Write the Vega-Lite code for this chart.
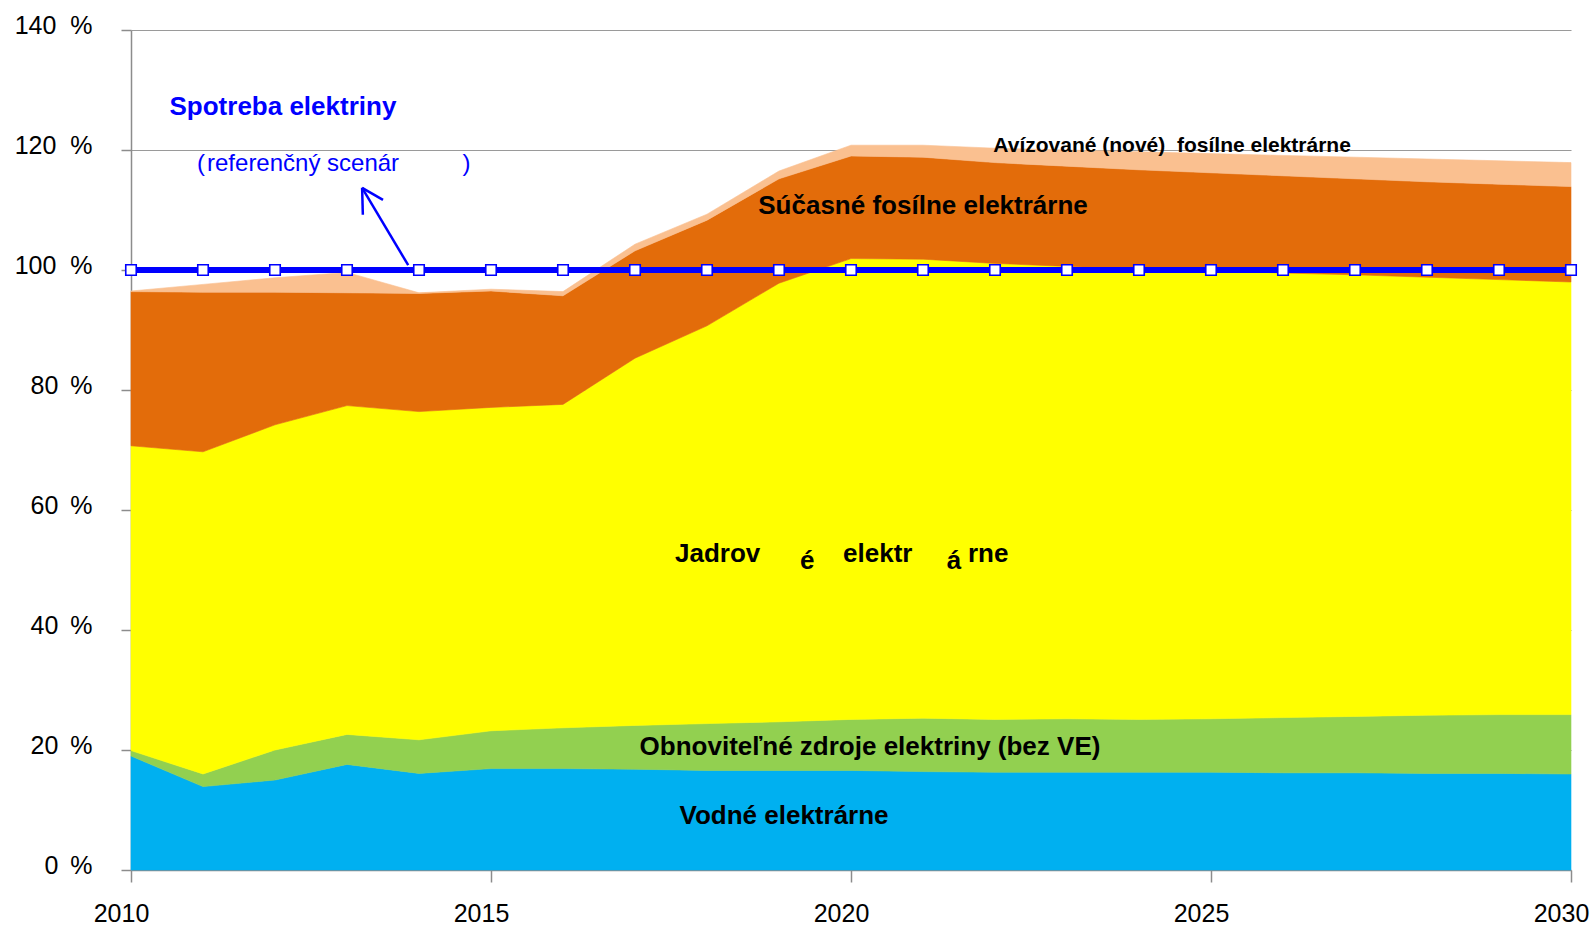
{
  "$schema": "https://vega.github.io/schema/vega-lite/v6.json",
  "width": 1440,
  "height": 840,
  "autosize": {"type": "none"},
  "padding": {"left": 131, "top": 30, "right": 25, "bottom": 55},
  "background": "white",
  "config": {
    "view": {"stroke": null},
    "font": "Liberation Sans",
    "axis": {"labelFont": "Liberation Sans", "labelColor": "#000000", "domainColor": "#8c8c8c", "tickColor": "#8c8c8c", "gridColor": "#9a9a9a", "domainWidth": 1.5, "tickWidth": 1.5, "gridWidth": 1.2}
  },
  "datasets": {
    "mix": [
      {"year": 2010, "a_vodne": 19.0, "b_obnov": 0.9, "c_jadro": 50.8, "d_fosil": 25.7, "e_nove": 0.1},
      {"year": 2011, "a_vodne": 13.9, "b_obnov": 2.1, "c_jadro": 53.7, "d_fosil": 26.6, "e_nove": 1.3},
      {"year": 2012, "a_vodne": 15.0, "b_obnov": 5.0, "c_jadro": 54.2, "d_fosil": 22.1, "e_nove": 2.4},
      {"year": 2013, "a_vodne": 17.6, "b_obnov": 5.0, "c_jadro": 54.8, "d_fosil": 18.8, "e_nove": 3.4},
      {"year": 2014, "a_vodne": 16.1, "b_obnov": 5.6, "c_jadro": 54.7, "d_fosil": 19.7, "e_nove": 0.1},
      {"year": 2015, "a_vodne": 16.9, "b_obnov": 6.3, "c_jadro": 53.9, "d_fosil": 19.4, "e_nove": 0.3},
      {"year": 2016, "a_vodne": 16.9, "b_obnov": 6.8, "c_jadro": 53.9, "d_fosil": 18.1, "e_nove": 0.7},
      {"year": 2017, "a_vodne": 16.8, "b_obnov": 7.3, "c_jadro": 61.2, "d_fosil": 17.9, "e_nove": 1.1},
      {"year": 2018, "a_vodne": 16.6, "b_obnov": 7.8, "c_jadro": 66.3, "d_fosil": 17.6, "e_nove": 1.0},
      {"year": 2019, "a_vodne": 16.6, "b_obnov": 8.1, "c_jadro": 73.1, "d_fosil": 17.4, "e_nove": 1.3},
      {"year": 2020, "a_vodne": 16.6, "b_obnov": 8.5, "c_jadro": 76.8, "d_fosil": 17.1, "e_nove": 1.8},
      {"year": 2021, "a_vodne": 16.4, "b_obnov": 8.9, "c_jadro": 76.5, "d_fosil": 17.0, "e_nove": 2.0},
      {"year": 2022, "a_vodne": 16.3, "b_obnov": 8.8, "c_jadro": 76.0, "d_fosil": 16.8, "e_nove": 2.4},
      {"year": 2023, "a_vodne": 16.3, "b_obnov": 8.9, "c_jadro": 75.4, "d_fosil": 16.7, "e_nove": 2.7},
      {"year": 2024, "a_vodne": 16.3, "b_obnov": 8.8, "c_jadro": 75.1, "d_fosil": 16.5, "e_nove": 3.0},
      {"year": 2025, "a_vodne": 16.3, "b_obnov": 8.9, "c_jadro": 74.7, "d_fosil": 16.3, "e_nove": 3.2},
      {"year": 2026, "a_vodne": 16.2, "b_obnov": 9.2, "c_jadro": 74.1, "d_fosil": 16.2, "e_nove": 3.4},
      {"year": 2027, "a_vodne": 16.2, "b_obnov": 9.4, "c_jadro": 73.6, "d_fosil": 16.0, "e_nove": 3.6},
      {"year": 2028, "a_vodne": 16.1, "b_obnov": 9.7, "c_jadro": 73.0, "d_fosil": 15.9, "e_nove": 3.8},
      {"year": 2029, "a_vodne": 16.1, "b_obnov": 9.8, "c_jadro": 72.5, "d_fosil": 15.9, "e_nove": 3.9},
      {"year": 2030, "a_vodne": 16.0, "b_obnov": 9.9, "c_jadro": 72.1, "d_fosil": 15.9, "e_nove": 4.0}
    ],
    "spotreba": [
      {"year": 2010, "pct": 100}, {"year": 2011, "pct": 100}, {"year": 2012, "pct": 100},
      {"year": 2013, "pct": 100}, {"year": 2014, "pct": 100}, {"year": 2015, "pct": 100},
      {"year": 2016, "pct": 100}, {"year": 2017, "pct": 100}, {"year": 2018, "pct": 100},
      {"year": 2019, "pct": 100}, {"year": 2020, "pct": 100}, {"year": 2021, "pct": 100},
      {"year": 2022, "pct": 100}, {"year": 2023, "pct": 100}, {"year": 2024, "pct": 100},
      {"year": 2025, "pct": 100}, {"year": 2026, "pct": 100}, {"year": 2027, "pct": 100},
      {"year": 2028, "pct": 100}, {"year": 2029, "pct": 100}, {"year": 2030, "pct": 100}
    ],
    "arrow": [
      {"x1": 2013.85, "y1": 100.8, "x2": 2013.21, "y2": 113.7},
      {"x1": 2013.21, "y1": 113.7, "x2": 2013.5, "y2": 111.7},
      {"x1": 2013.21, "y1": 113.7, "x2": 2013.22, "y2": 109.2}
    ],
    "labelsCenter": [
      {"tx": 2021.0, "ty": 109.33, "label": "Súčasné fosílne elektrárne"},
      {"tx": 2020.264, "ty": 19.17, "label": "Obnoviteľné zdroje elektriny (bez VE)"},
      {"tx": 2019.07, "ty": 7.67, "label": "Vodné elektrárne"}
    ],
    "labelsJadro": [
      {"tx": 2017.556, "ty": 51.33, "label": "Jadrov"},
      {"tx": 2019.29, "ty": 50.17, "label": "é"},
      {"tx": 2019.89, "ty": 51.33, "label": "elektr"},
      {"tx": 2021.33, "ty": 50.17, "label": "á"},
      {"tx": 2021.625, "ty": 51.33, "label": "rne"}
    ],
    "labelsNove": [
      {"tx": 2024.46, "ty": 119.7, "label": "Avízované (nové)\u00a0 fosílne elektrárne"}
    ],
    "labelsSpotreba": [
      {"tx": 2012.11, "ty": 125.83, "label": "Spotreba elektriny"}
    ],
    "labelsScenarLeft": [
      {"tx": 2010.917, "ty": 116.55, "label": "(\u200areferenčný scenár"}
    ],
    "labelsScenarRight": [
      {"tx": 2014.66, "ty": 116.55, "label": ")"}
    ]
  },
  "layer": [
    {
      "data": {"name": "mix"},
      "transform": [{"fold": ["a_vodne", "b_obnov", "c_jadro", "d_fosil", "e_nove"], "as": ["zdroj", "podiel"]}],
      "mark": {"type": "area", "interpolate": "linear", "strokeWidth": 0.6, "strokeOpacity": 1},
      "encoding": {
        "x": {"field": "year", "type": "quantitative", "title": null, "scale": {"domain": [2010, 2030], "nice": false, "zero": false},
          "axis": {"title": null, "values": [2010, 2015, 2020, 2025, 2030], "format": "d", "grid": false, "tickSize": 12, "labelFontSize": 25, "labelPadding": 19, "labelOffset": -10, "labelFlush": false, "labelOverlap": false}},
        "y": {"field": "podiel", "type": "quantitative", "title": null, "stack": "zero", "scale": {"domain": [0, 140], "nice": false},
          "axis": {"title": null, "values": [0, 20, 40, 60, 80, 100, 120, 140], "grid": true, "tickSize": 10, "labelFontSize": 25, "labelPadding": 29, "labelOffset": -5, "labelFlush": false, "labelOverlap": false,
            "labelExpr": "datum.value >= 100 ? datum.value + '\u00a0\u00a0%' : datum.value + '\u00a0\u2009%'"}},
        "color": {"field": "zdroj", "type": "nominal", "legend": null,
          "scale": {"domain": ["a_vodne", "b_obnov", "c_jadro", "d_fosil", "e_nove"], "range": ["#00B0F0", "#92D050", "#FFFF00", "#E36C0A", "#FAC090"]}},
        "stroke": {"field": "zdroj", "type": "nominal", "legend": null,
          "scale": {"domain": ["a_vodne", "b_obnov", "c_jadro", "d_fosil", "e_nove"], "range": ["#00B0F0", "#92D050", "#FFFF00", "#E36C0A", "#FAC090"]}},
        "order": {"field": "zdroj", "sort": "ascending"}
      }
    },
    {
      "data": {"name": "arrow"},
      "mark": {"type": "rule", "color": "#0000FF", "strokeWidth": 2.5},
      "encoding": {
        "x": {"field": "x1", "type": "quantitative", "title": null},
        "y": {"field": "y1", "type": "quantitative", "title": null},
        "x2": {"field": "x2"},
        "y2": {"field": "y2"}
      }
    },
    {
      "data": {"name": "spotreba"},
      "mark": {"type": "line", "color": "#0000FF", "strokeWidth": 6, "interpolate": "linear"},
      "encoding": {
        "x": {"field": "year", "type": "quantitative", "title": null},
        "y": {"field": "pct", "type": "quantitative", "title": null}
      }
    },
    {
      "data": {"name": "spotreba"},
      "mark": {"type": "point", "shape": "square", "filled": true, "fill": "#FFFFFF", "stroke": "#0000FF", "strokeWidth": 1.6, "size": 110, "opacity": 1},
      "encoding": {
        "x": {"field": "year", "type": "quantitative", "title": null},
        "y": {"field": "pct", "type": "quantitative", "title": null}
      }
    },
    {
      "data": {"name": "labelsCenter"},
      "mark": {"type": "text", "font": "Liberation Sans", "fontWeight": "bold", "fontSize": 26, "color": "#000000", "align": "center", "baseline": "alphabetic"},
      "encoding": {
        "x": {"field": "tx", "type": "quantitative", "title": null},
        "y": {"field": "ty", "type": "quantitative", "title": null},
        "text": {"field": "label"}
      }
    },
    {
      "data": {"name": "labelsJadro"},
      "mark": {"type": "text", "font": "Liberation Sans", "fontWeight": "bold", "fontSize": 26, "color": "#000000", "align": "left", "baseline": "alphabetic"},
      "encoding": {
        "x": {"field": "tx", "type": "quantitative", "title": null},
        "y": {"field": "ty", "type": "quantitative", "title": null},
        "text": {"field": "label"}
      }
    },
    {
      "data": {"name": "labelsNove"},
      "mark": {"type": "text", "font": "Liberation Sans", "fontWeight": "bold", "fontSize": 21, "color": "#000000", "align": "center", "baseline": "alphabetic"},
      "encoding": {
        "x": {"field": "tx", "type": "quantitative", "title": null},
        "y": {"field": "ty", "type": "quantitative", "title": null},
        "text": {"field": "label"}
      }
    },
    {
      "data": {"name": "labelsSpotreba"},
      "mark": {"type": "text", "font": "Liberation Sans", "fontWeight": "bold", "fontSize": 26, "color": "#0000FF", "align": "center", "baseline": "alphabetic"},
      "encoding": {
        "x": {"field": "tx", "type": "quantitative", "title": null},
        "y": {"field": "ty", "type": "quantitative", "title": null},
        "text": {"field": "label"}
      }
    },
    {
      "data": {"name": "labelsScenarLeft"},
      "mark": {"type": "text", "font": "Liberation Sans", "fontSize": 24, "color": "#0000FF", "align": "left", "baseline": "alphabetic"},
      "encoding": {
        "x": {"field": "tx", "type": "quantitative", "title": null},
        "y": {"field": "ty", "type": "quantitative", "title": null},
        "text": {"field": "label"}
      }
    },
    {
      "data": {"name": "labelsScenarRight"},
      "mark": {"type": "text", "font": "Liberation Sans", "fontSize": 24, "color": "#0000FF", "align": "center", "baseline": "alphabetic"},
      "encoding": {
        "x": {"field": "tx", "type": "quantitative", "title": null},
        "y": {"field": "ty", "type": "quantitative", "title": null},
        "text": {"field": "label"}
      }
    }
  ]
}
